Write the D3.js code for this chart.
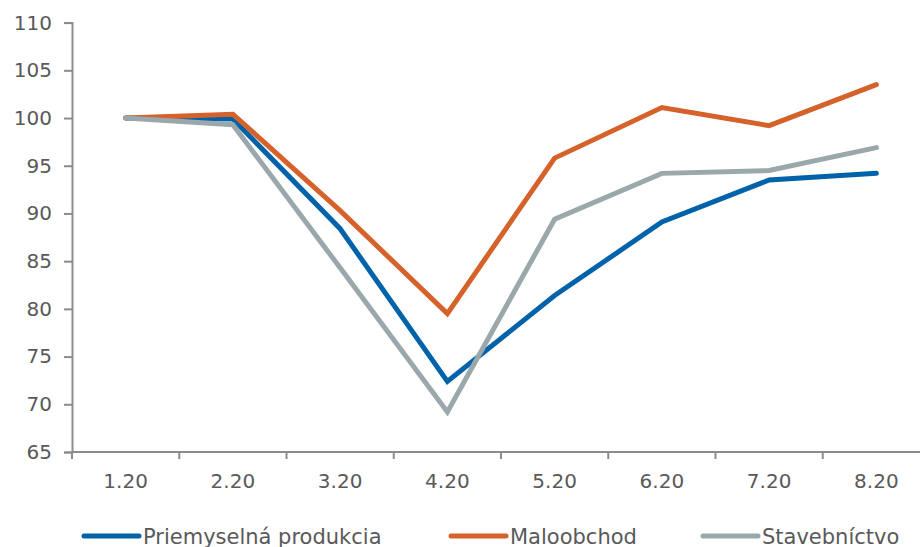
<!DOCTYPE html>
<html>
<head>
<meta charset="utf-8">
<script src="https://cdn.jsdelivr.net/npm/d3@7/dist/d3.min.js"></script>
<style>
  html, body { margin: 0; padding: 0; background: #fff; }
  svg { display: block; }
  text { font-family: "DejaVu Sans", Verdana, sans-serif; fill: #595959; }
</style>
</head>
<body>
<svg id="chart" width="920" height="547"></svg>
<script>
// Monthly indices, January 2020 = 100
const months = ["1.20", "2.20", "3.20", "4.20", "5.20", "6.20", "7.20", "8.20"];
const priemysel = [100, 99.9, 88.4, 72.4, 81.4, 89.1, 93.5, 94.2];
const maloobchod = [100, 100.4, 90.3, 79.5, 95.8, 101.1, 99.2, 103.5];
const stavebnictvo = [100, 99.3, 84.3, 69.2, 89.4, 94.2, 94.5, 96.9];
const yTicks = [65, 70, 75, 80, 85, 90, 95, 100, 105, 110];

const series = [
  { name: "Priemyselná produkcia", values: priemysel, color: "#0063a9" },
  { name: "Maloobchod", values: maloobchod, color: "#d5622a" },
  { name: "Stavebníctvo", values: stavebnictvo, color: "#9aa8ac" }
];

const svg = d3.select("#chart");
const W = 920;
const plotLeft = 72, plotRight = 930, plotTop = 22.6, plotBottom = 452;

const x = d3.scaleBand().domain(months).range([plotLeft, plotRight]).padding(0);
const y = d3.scaleLinear().domain([65, 110]).range([plotBottom, plotTop]);
const axisColor = "#8c8c8c";

// Y axis
const yAxis = svg.append("g")
  .attr("transform", `translate(${plotLeft},0)`)
  .call(d3.axisLeft(y).tickValues(yTicks).tickSize(8).tickPadding(12));
yAxis.select(".domain").attr("stroke", axisColor).attr("stroke-width", 2);
yAxis.selectAll(".tick line").attr("stroke", axisColor).attr("stroke-width", 2);
yAxis.selectAll(".tick text")
  .attr("font-size", 20).attr("font-family", "DejaVu Sans, Verdana, sans-serif")
  .attr("fill", "#595959");

// X axis: ticks between categories, labels centred in each band
const xg = svg.append("g");
xg.append("line")
  .attr("x1", plotLeft).attr("x2", W)
  .attr("y1", plotBottom).attr("y2", plotBottom)
  .attr("stroke", axisColor).attr("stroke-width", 2);
xg.selectAll("line.tick")
  .data(months)
  .join("line")
  .attr("class", "tick")
  .attr("x1", d => x(d)).attr("x2", d => x(d))
  .attr("y1", plotBottom).attr("y2", plotBottom + 7)
  .attr("stroke", axisColor).attr("stroke-width", 2);
xg.selectAll("text")
  .data(months)
  .join("text")
  .attr("x", d => x(d) + x.bandwidth() / 2)
  .attr("y", plotBottom + 36)
  .attr("text-anchor", "middle")
  .attr("font-size", 20)
  .text(d => d);

// Lines
const line = d3.line()
  .x((d, i) => x(months[i]) + x.bandwidth() / 2)
  .y(d => y(d));

svg.append("g")
  .selectAll("path")
  .data(series)
  .join("path")
  .attr("d", d => line(d.values))
  .attr("fill", "none")
  .attr("stroke", d => d.color)
  .attr("stroke-width", 5)
  .attr("stroke-linejoin", "miter")
  .attr("stroke-linecap", "round");

// Legend
const legendX = [84, 451, 703];
const legend = svg.append("g");
const items = legend.selectAll("g")
  .data(series)
  .join("g")
  .attr("transform", (d, i) => `translate(${legendX[i]},536)`);
items.append("line")
  .attr("x1", 0).attr("x2", 55)
  .attr("y1", 0).attr("y2", 0)
  .attr("stroke", d => d.color)
  .attr("stroke-width", 5)
  .attr("stroke-linecap", "round");
items.append("text")
  .attr("x", 59)
  .attr("y", 7.5)
  .attr("font-size", 21)
  .text(d => d.name);
</script>
</body>
</html>
